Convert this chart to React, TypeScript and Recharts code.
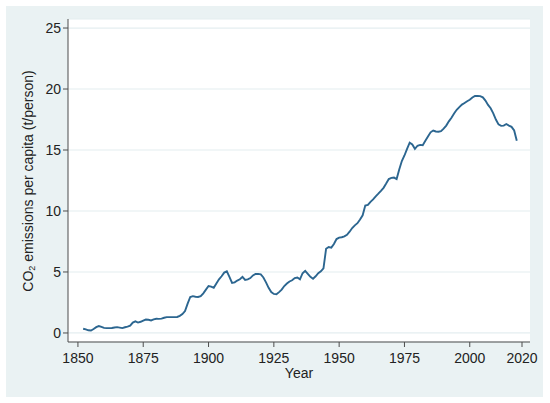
import { CartesianGrid, Line, LineChart, XAxis, YAxis } from "recharts";

// Year range of the series (annual values).
const firstYear = 1852;

const co2PerCapita = [
  0.35, 0.3, 0.22, 0.2, 0.32, 0.48, 0.57, 0.5, 0.42, 0.4, // 1852-1861
  0.4, 0.41, 0.45, 0.48, 0.44, 0.4, 0.47, 0.52, 0.6, 0.85, // 1862-1871
  0.95, 0.85, 0.92, 1.02, 1.1, 1.08, 1.03, 1.12, 1.17, 1.16, // 1872-1881
  1.18, 1.25, 1.3, 1.3, 1.3, 1.3, 1.31, 1.4, 1.55, 1.8, // 1882-1891
  2.4, 2.95, 3.02, 2.97, 2.95, 3.02, 3.25, 3.55, 3.85, 3.8, // 1892-1901
  3.7, 4.05, 4.4, 4.65, 4.95, 5.05, 4.6, 4.1, 4.15, 4.3, // 1902-1911
  4.4, 4.6, 4.35, 4.4, 4.5, 4.72, 4.84, 4.84, 4.8, 4.55, // 1912-1921
  4.15, 3.7, 3.35, 3.2, 3.17, 3.35, 3.55, 3.85, 4.05, 4.22, // 1922-1931
  4.32, 4.5, 4.55, 4.4, 4.9, 5.1, 4.85, 4.6, 4.45, 4.65, // 1932-1941
  4.9, 5.05, 5.3, 6.9, 7.05, 7.0, 7.3, 7.7, 7.82, 7.85, // 1942-1951
  7.92, 8.05, 8.3, 8.6, 8.82, 9.0, 9.3, 9.65, 10.45, 10.5, // 1952-1961
  10.75, 10.95, 11.2, 11.42, 11.65, 11.9, 12.25, 12.62, 12.72, 12.74, // 1962-1971
  12.62, 13.4, 14.1, 14.55, 15.1, 15.6, 15.45, 15.1, 15.35, 15.42, // 1972-1981
  15.4, 15.75, 16.1, 16.45, 16.6, 16.52, 16.5, 16.55, 16.75, 17.0, // 1982-1991
  17.35, 17.65, 18.0, 18.3, 18.52, 18.72, 18.85, 19.0, 19.12, 19.3, // 1992-2001
  19.43, 19.44, 19.42, 19.32, 19.05, 18.7, 18.42, 18.0, 17.5, 17.1, // 2002-2011
  16.98, 17.0, 17.13, 17.0, 16.9, 16.6, 15.76, // 2012-2018
];

const xTicks = [1850, 1875, 1900, 1925, 1950, 1975, 2000, 2020];
const yTicks = [0, 5, 10, 15, 20, 25];

const data = co2PerCapita.map((value, i) => ({ year: firstYear + i, value }));

const font = "'Liberation Sans', Arial, sans-serif";
const axisColor = "#4d4d4d";
const textColor = "#222";

function YTitle() {
  return (
    <text
      x={28}
      y={181}
      transform="rotate(-90 28 181)"
      textAnchor="middle"
      dominantBaseline="central"
      fontFamily={font}
      fontSize={14}
      fill={textColor}
    >
      CO
      <tspan fontSize={9} dy={4}>
        2
      </tspan>
      <tspan dy={-4}> emissions per capita (t/person)</tspan>
    </text>
  );
}

export default function App() {
  return (
    <div
      style={{
        position: "absolute",
        left: 0,
        top: 0,
        width: 550,
        height: 403,
        background: "#fff",
      }}
    >
      <div
        style={{
          position: "absolute",
          left: 6,
          top: 6,
          width: 537,
          height: 391,
          background: "#eaf2f3",
        }}
      />
      <div style={{ position: "absolute", left: 0, top: 0 }}>
        <LineChart
          width={550}
          height={403}
          data={data}
          margin={{ top: 19, right: 20, bottom: 21, left: 0 }}
        >
          <CartesianGrid
            vertical={false}
            stroke="#e4eef0"
            strokeWidth={1.2}
            fill="#ffffff"
            fillOpacity={1}
          />
          <XAxis
            dataKey="year"
            type="number"
            domain={[1846.2, 2023.06]}
            ticks={xTicks}
            allowDataOverflow
            height={40}
            stroke={axisColor}
            tickSize={5}
            tickMargin={6}
            tick={{ fill: textColor, fontSize: 14, fontFamily: font }}
            label={{
              value: "Year",
              position: "insideBottom",
              offset: 4,
              fill: textColor,
              fontSize: 14,
              fontFamily: font,
            }}
          />
          <YAxis
            type="number"
            domain={[-0.74, 25.74]}
            ticks={yTicks}
            allowDataOverflow
            width={68}
            stroke={axisColor}
            tickSize={5}
            tickMargin={2}
            tick={{ fill: textColor, fontSize: 14, fontFamily: font }}
            label={<YTitle />}
          />
          <Line
            type="linear"
            dataKey="value"
            stroke="#2c6690"
            strokeWidth={1.9}
            dot={false}
            isAnimationActive={false}
          />
        </LineChart>
      </div>
    </div>
  );
}
